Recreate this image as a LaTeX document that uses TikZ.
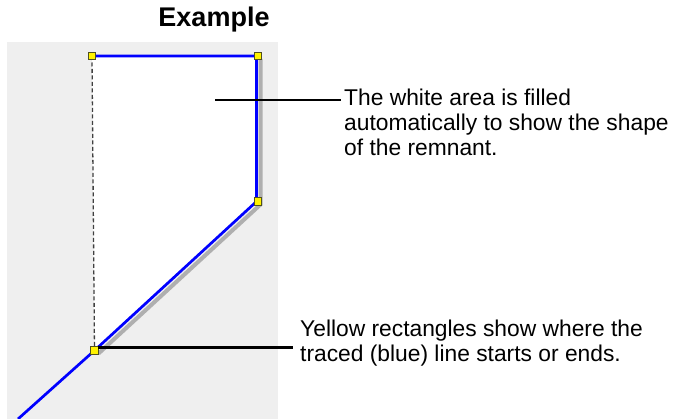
\documentclass[tikz,border=0pt]{standalone}
\usepackage{fontspec}
\setmainfont{Liberation Sans}
\definecolor{bggray}{RGB}{239,239,239}
\definecolor{shadowgray}{RGB}{175,175,175}
\definecolor{sqborder}{RGB}{80,80,30}
\begin{document}
\begin{tikzpicture}[x=1pt,y=-1pt,
  ysq/.style={draw=sqborder,fill=yellow,line width=0.9pt,minimum size=7.5pt,inner sep=0pt,outer sep=0pt},
  traced/.style={draw=blue,line width=2.7pt,line join=miter},
  shadowline/.style={draw=shadowgray,line width=4pt},
  callout/.style={draw=black,line width=2.6pt},
  note/.style={anchor=north west,inner sep=0pt,align=left,font=\fontsize{22.8}{25}\selectfont},
  guide/.style={draw=black!75,line width=1.3pt,dash pattern=on 4pt off 2.5pt}]
\useasboundingbox (0,0) rectangle (674,419);
\fill[bggray] (7,42) rectangle (278,419);
\node[font=\bfseries\fontsize{27}{30}\selectfont,anchor=base] (title) at (214,27) {Example};
% positions
\coordinate (pa) at (92,56);
\coordinate (pb) at (256.5,56);
\coordinate (pc) at (256.5,201.5);
\coordinate (pd) at (94.5,350.5);
\coordinate (pe) at (18,419);
% shadow
\draw[shadowline] ([shift={(4,3)}]pb) -- ([shift={(4,3)}]pc) -- ([shift={(4,3)}]pd);
% white area
\fill[white] (pa) -- (pb) -- (pc) -- (pd) -- cycle;
% guide
\draw[guide] (pa) -- (pd);
% traced line
\draw[traced] (pa) -- (pb) -- (pc) -- (pd) -- (pe);
% squares
\node[ysq] (sa) at (92,56) {};
\node[ysq] (sb) at (258,56) {};
\node[ysq] (sc) at (258,201.5) {};
\node[ysq] (sd) at (94.5,350.5) {};
% callouts
\coordinate (c1s) at (215,100);
\coordinate (c1e) at (341,100);
\draw[callout] (c1s) -- (c1e);
\node[note] (t1) at (344,89) {The white area is filled\\automatically to show the shape\\of the remnant.};
\coordinate (c2e) at (293,347.5);
\path (sd.east) ++(0,-3) coordinate (c2s);
\draw[callout] (c2s) -- (c2e);
\node[note] (t2) at (300,320) {Yellow rectangles show where the\\traced (blue) line starts or ends.};
\end{tikzpicture}
\end{document}
